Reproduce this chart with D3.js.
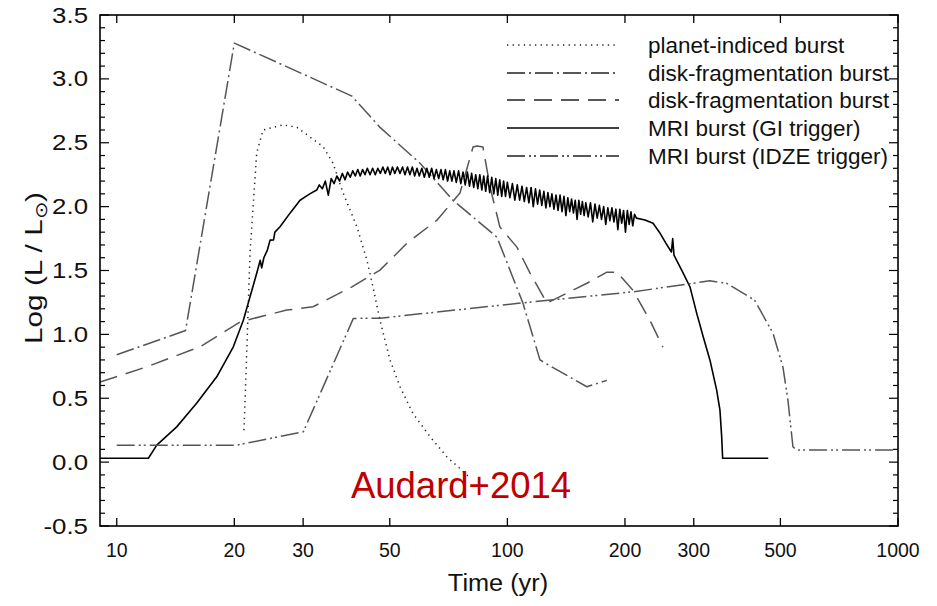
<!DOCTYPE html>
<html><head><meta charset="utf-8">
<script src="https://cdn.jsdelivr.net/npm/d3@7"></script>
<style>
html,body{margin:0;padding:0;background:#fff;}
svg text{font-family:"Liberation Sans",Arial,sans-serif;}
</style></head>
<body>
<svg id="chart" width="937" height="606"></svg>
<script>
// ---------- data (time in yr, log L/Lsun) ----------
const xTickValues = [10,20,30,50,100,200,300,500,1000];
const xTickLabels = ["10","20","30","50","100","200","300","500","1000"];
const yTickValues = [-0.5,0,0.5,1,1.5,2,2.5,3,3.5];
const yTickLabels = ["-0.5","0.0","0.5","1.0","1.5","2.0","2.5","3.0","3.5"];
const seriesNames = ["planet-indiced burst","disk-fragmentation burst","disk-fragmentation burst","MRI burst (GI trigger)","MRI burst (IDZE trigger)"];

const planetBurst = [[21.17,0.25],[21.51,0.85],[21.94,1.64],[22.82,2.42],[23.69,2.60],[26.65,2.64],[28.94,2.62],[33.73,2.47],[35.78,2.34],[37.95,2.11],[41.21,1.84],[43.71,1.58],[45.29,1.37],[47.2,1.11],[50.06,0.80],[53.11,0.59],[57.33,0.38],[63.38,0.20],[70.06,0.04],[75.62,-0.05],[80,-0.12]];

const diskFrag1 = [[10,0.84],[15,1.03],[20,3.28],[40,2.865],[47.2,2.62],[59.75,2.34],[72.6,2.05],[94.1,1.76],[109.6,1.245],[121.2,0.80],[130.9,0.74],[159.8,0.59],[179.8,0.64]];

const diskFrag2 = [[9.06,0.626],[11.93,0.746],[16.34,0.903],[20.69,1.098],[27.24,1.19],[31.8,1.216],[40,1.372],[47.2,1.503],[55.34,1.714],[66.02,1.894],[75.62,2.106],[81.66,2.466],[83.6,2.474],[86.6,2.466],[90.3,2.153],[95.7,1.84],[105.8,1.683],[114.3,1.48],[126.3,1.245],[142.1,1.323],[159.8,1.40],[179.8,1.487],[190.8,1.487],[209.6,1.346],[231.7,1.11],[250.1,0.90]];

const mriGI = [[9.06,0.03],[12.05,0.03],[12.66,0.133],[14.24,0.276],[16.03,0.462],[18.03,0.668],[19.88,0.903],[21.09,1.11],[21.94,1.294],[22.82,1.479],[23.3,1.58],[23.5,1.52],[23.8,1.6],[24.3,1.66],[24.69,1.738],[25.2,1.74],[25.4,1.8],[26.18,1.842],[27.77,1.949],[29.46,2.05],[30.5,2.08],[31.2,2.1],[32.5,2.13],
[33.0,2.17],[33.6,2.14],[34.2,2.2],[34.8,2.09],[35.4,2.22],[36.0,2.18],[36.6,2.24],[37.2,2.2],[37.8,2.26],[38.4,2.21],[39.0,2.27],[39.6,2.23],[40.2,2.28],[40.8,2.24],[41.4,2.29],[42.0,2.24],[42.6,2.29],[43.2,2.25],[43.8,2.3],[44.5,2.25],[45.2,2.3],[45.9,2.25],[46.6,2.3],[47.3,2.26],[48.0,2.31],[48.7,2.26],[49.4,2.31],[50.1,2.25],[50.8,2.31],[51.5,2.26],[52.3,2.31],[53.1,2.26],[53.9,2.31],[54.7,2.25],[55.5,2.31],[56.3,2.25],[57.1,2.31],[57.9,2.24],[58.7,2.30],[59.5,2.24],
[60.4,2.30],[61.3,2.23],[62.2,2.30],[63.1,2.23],[64.0,2.30],[64.9,2.22],[65.8,2.29],[66.7,2.22],[67.6,2.29],[68.5,2.21],[69.4,2.29],[70.3,2.2],[71.2,2.28],[72.1,2.2],[73.0,2.28],[74.0,2.19],[75.0,2.28],[76.0,2.18],[77.0,2.27],[78.0,2.17],[79.0,2.27],[80.0,2.16],[81.0,2.26],[82.0,2.15],[83.0,2.25],[84.0,2.14],[85.0,2.25],[86.0,2.13],[87.0,2.24],[88.0,2.12],[89.0,2.24],[90.1,2.11],[91.2,2.23],[92.3,2.1],[93.4,2.22],[94.5,2.09],[95.6,2.21],[96.7,2.08],[97.8,2.2],[98.9,2.08],
[100.0,2.19],[101.5,2.07],[103.0,2.18],[104.5,2.05],[106.0,2.17],[107.5,2.05],[109.0,2.16],[110.5,2.04],[112.0,2.15],[113.5,2.03],[115.0,2.15],[116.5,2.0],[118.0,2.14],[119.5,2.02],[121.0,2.13],[122.5,2.01],[124.0,2.12],[125.5,1.99],[127.0,2.11],[128.5,2.0],[130.0,2.1],[131.6,1.98],[133.2,2.09],[134.8,1.97],[136.4,2.09],[138.0,1.96],[139.6,2.08],[141.2,1.93],[142.8,2.07],[144.4,1.96],[146.0,2.06],[147.6,1.95],[149.2,2.05],[150.8,1.9],[152.4,2.05],[154.0,1.94],[155.6,2.04],[157.2,1.93],[158.8,2.03],
[161.0,1.92],[163.2,2.03],[165.4,1.88],[167.6,2.02],[169.8,1.91],[172.0,2.01],[174.2,1.9],[176.4,2.0],[178.6,1.86],[180.8,1.99],[183.0,1.89],[185.2,1.99],[187.4,1.88],[189.6,1.98],[191.8,1.82],[194.0,1.98],[196.2,1.87],[198.4,1.97],[200.6,1.8],[202.8,1.97],[205.0,1.86],[207.2,1.96],[209.4,1.85],[211.6,1.94],
[214,1.91],[225,1.895],[236,1.87],[245,1.80],[254.5,1.714],[263,1.645],[265,1.75],[267,1.62],[281.9,1.479],[293.4,1.372],[305.2,1.166],[317.2,0.981],[330.1,0.798],[343.4,0.564],[350.1,0.407],[353.7,0.198],[355.7,0.03],[465.4,0.03]];

const mriIDZE = [[10,0.133],[20.28,0.133],[30.03,0.237],[40.34,1.125],[47.2,1.127],[109.6,1.247],[209.6,1.333],[330.1,1.419],[364.1,1.40],[429.4,1.268],[478.5,1.01],[507.5,0.744],[522.7,0.485],[538.3,0.12],[550.2,0.094],[1000,0.094]];

const seriesData = [planetBurst, diskFrag1, diskFrag2, mriGI, mriIDZE];
const annotation = "Audard+2014";

// ---------- styles ----------
const styles = [
  {stroke:"#222", width:1.5, dash:"1.3,4.3", legend:"#222"},
  {stroke:"#555", width:1.5, dash:"18,4,2,4", legend:"#222"},
  {stroke:"#555", width:1.5, dash:"18,9", legend:"#222"},
  {stroke:"#000", width:1.6, dash:null, legend:"#000"},
  {stroke:"#555", width:1.5, dash:"18,4,2,3,2,4", legend:"#222"}
];

const L = 100, R = 898, T = 15, B = 526;
const svg = d3.select("#chart");
const x = d3.scaleLog().domain([9.06, 1000]).range([L, R]);
const y = d3.scaleLinear().domain([-0.5, 3.5]).range([B, T]);

svg.append("defs").append("clipPath").attr("id","clip")
  .append("rect").attr("x",L).attr("y",T).attr("width",R-L).attr("height",B-T);

const line = d3.line().x(d => x(d[0])).y(d => y(d[1]));
const plot = svg.append("g").attr("clip-path","url(#clip)");
seriesData.forEach((s,i) => {
  plot.append("path").datum(s).attr("d", line)
    .attr("fill","none").attr("stroke",styles[i].stroke)
    .attr("stroke-width",styles[i].width)
    .attr("stroke-linejoin","round")
    .attr("stroke-dasharray",styles[i].dash);
});

// frame
svg.append("rect").attr("x",L).attr("y",T).attr("width",R-L).attr("height",B-T)
  .attr("fill","none").attr("stroke","#000").attr("stroke-width",1.6);

// x ticks (bottom & top, inward)
const gx = svg.append("g");
xTickValues.forEach((v,i) => {
  gx.append("line").attr("x1",x(v)).attr("x2",x(v)).attr("y1",B).attr("y2",B-8).attr("stroke","#000").attr("stroke-width",1.3);
  gx.append("line").attr("x1",x(v)).attr("x2",x(v)).attr("y1",T).attr("y2",T+8).attr("stroke","#000").attr("stroke-width",1.3);
  gx.append("text").attr("x",x(v)).attr("y",557).attr("text-anchor","middle")
    .attr("font-size",19.5).attr("fill","#111").text(xTickLabels[i]);
});

// y ticks
const gy = svg.append("g");
const minor = d3.range(-5, 36).map(k => k/10);
minor.forEach(v => {
  const major = Math.abs(v*2 - Math.round(v*2)) < 1e-6;
  const len = major ? 9 : 5;
  gy.append("line").attr("x1",L).attr("x2",L+len).attr("y1",y(v)).attr("y2",y(v)).attr("stroke","#000").attr("stroke-width",1.2);
  gy.append("line").attr("x1",R).attr("x2",R-len).attr("y1",y(v)).attr("y2",y(v)).attr("stroke","#000").attr("stroke-width",1.2);
});
yTickValues.forEach((v,i) => {
  const t = gy.append("text").attr("x",88).attr("y",y(v)+7.5).attr("text-anchor","end")
    .attr("font-size",21.5).attr("fill","#111").text(yTickLabels[i]);
  const w = t.node().getComputedTextLength();
  t.attr("textLength", w*1.2).attr("lengthAdjust","spacingAndGlyphs");
});

// axis titles
const xt = svg.append("text").attr("x",498).attr("y",591).attr("text-anchor","middle")
  .attr("font-size",23).attr("fill","#111").text("Time (yr)");
xt.attr("textLength", xt.node().getComputedTextLength()*1.1).attr("lengthAdjust","spacingAndGlyphs");
const yt = svg.append("text").attr("transform","translate(42,268) rotate(-90)")
  .attr("text-anchor","middle").attr("font-size",24).attr("fill","#111");
yt.append("tspan").text("Log (L / L");
yt.append("tspan").attr("font-size",17).attr("dy",5).text("\u2299");
yt.append("tspan").attr("dy",-5).text(")");
yt.attr("textLength", 152).attr("lengthAdjust","spacingAndGlyphs");

// legend
const legY = [45, 73, 100, 128, 156];
seriesNames.forEach((n,i) => {
  svg.append("line").attr("x1",507).attr("x2",619).attr("y1",legY[i]).attr("y2",legY[i])
    .attr("stroke",styles[i].legend).attr("stroke-width",styles[i].width)
    .attr("stroke-dasharray",styles[i].dash);
  svg.append("text").attr("x",648).attr("y",legY[i]+8).attr("font-size",22.5)
    .attr("fill","#111").text(n);
});

// annotation
svg.append("text").attr("x",461).attr("y",498).attr("text-anchor","middle")
  .attr("font-size",36.5).attr("fill","#C00000").text(annotation);
</script>
</body></html>
